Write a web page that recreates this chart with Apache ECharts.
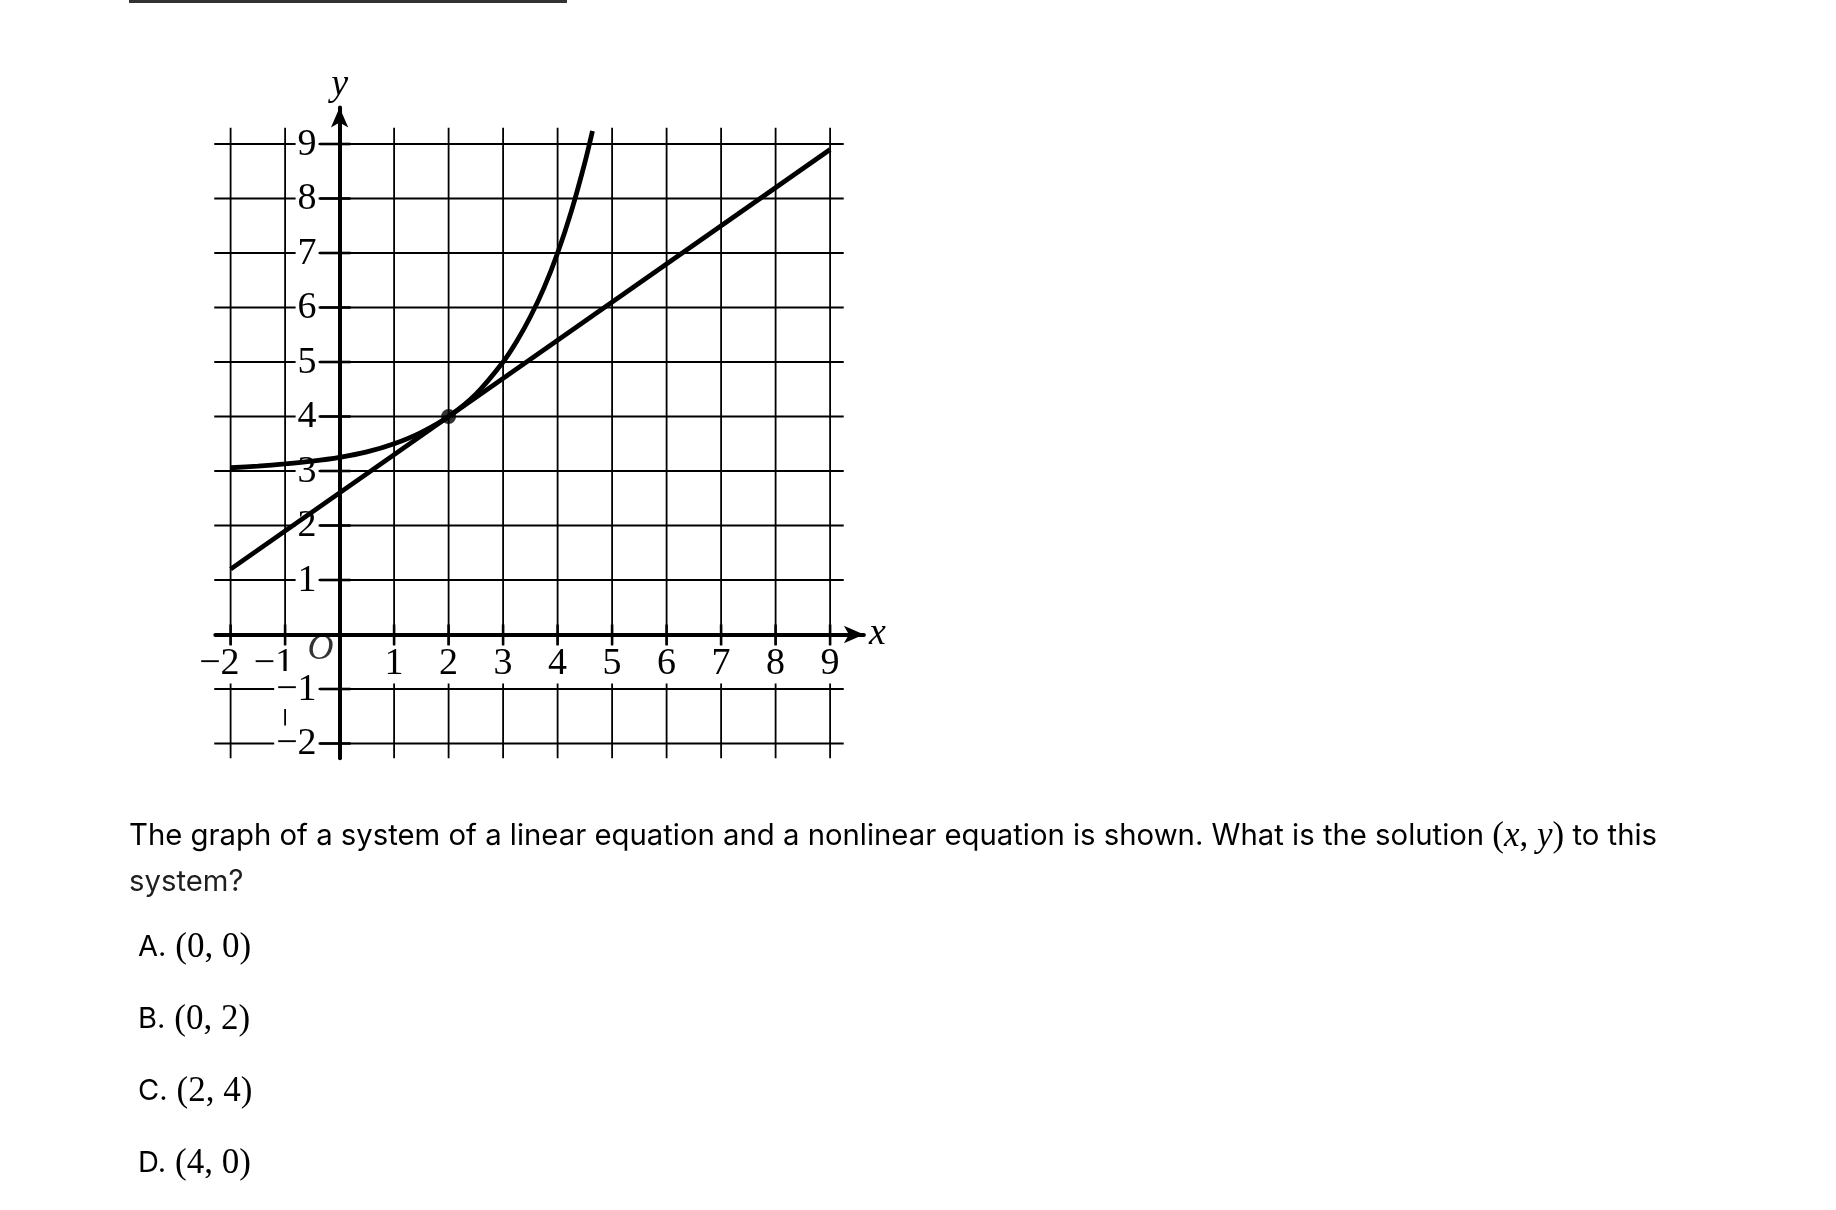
<!DOCTYPE html>
<html>
<head>
<meta charset="utf-8">
<script src="https://cdn.jsdelivr.net/npm/echarts@6/dist/echarts.min.js"></script>
<style>
html,body{margin:0;padding:0;background:#fff;}
#chart{width:1836px;height:1210px;}
</style>
</head>
<body>
<div id="chart"></div>
<script>
// ---- data ----
const xTicks = [-2, -1, 1, 2, 3, 4, 5, 6, 7, 8, 9];
const yTicks = [-2, -1, 1, 2, 3, 4, 5, 6, 7, 8, 9];
const xLabelValues = [-2, -1, 1, 2, 3, 4, 5, 6, 7, 8, 9];
const yLabelValues = [-2, -1, 1, 2, 3, 4, 5, 6, 7, 8, 9];
// linear equation (endpoints as drawn)
const lineX = [-2, 9];
const lineY = [1.2, 8.9];
// nonlinear (exponential-looking) curve
const curveX = [-2, -1.5, -1, -0.5, 0, 0.5, 1, 1.5, 2, 2.5, 3, 3.25, 3.5, 3.75, 4, 4.25, 4.5, 4.64];
const curveY = [3.06, 3.09, 3.13, 3.18, 3.25, 3.35, 3.5, 3.71, 4.0, 4.41, 5.0, 5.38, 5.83, 6.36, 7.0, 7.76, 8.66, 9.24];
// intersection point
const solution = [[2, 4]];
const originPoint = [[0, 0]];

const questionText = 'The graph of a system of a linear equation and a nonlinear equation is shown. What is the solution ';
const questionTail = ' to this';
const questionLine2 = 'system?';
const choiceLetters = ['A.', 'B.', 'C.', 'D.'];
const choiceValues = ['(0, 0)', '(0, 2)', '(2, 4)', '(4, 0)'];

// ---- layout / style constants ----
const SERIF = '"Liberation Serif", "Times New Roman", serif';
const SANS = 'Inter, "Noto Sans", sans-serif';
const X_MIN = -2.28, X_MAX = 9.62, Y_MIN = -2.27, Y_MAX = 9.67;
const GRID_V_LO = -2.27, GRID_V_HI = 9.3;   // vertical grid line extent (y)
const GRID_H_LO = -2.30, GRID_H_HI = 9.25;  // horizontal grid line extent (x)
const UNIT = 54.5, X0 = 339.6, Y0 = 634.5;

const chart = echarts.init(document.getElementById('chart'), null, {renderer: 'canvas'});

const tickFont = {fontFamily: SERIF, fontSize: 38, fill: '#000', backgroundColor: '#fff', padding: [0, 2]};

const choiceGraphics = [];
const choiceBaseTop = 927;
choiceLetters.forEach((c, i) => {
  choiceGraphics.push({
    type: 'text', left: 138, top: choiceBaseTop + i * 72, silent: true,
    style: {
      text: '{l|' + c + '}{s| }{m|' + choiceValues[i] + '}',
      rich: {
        l: {fontFamily: SANS, fontSize: 29, color: '#1f1f1f', lineHeight: 44, verticalAlign: 'bottom', padding: [0, 0, 3, 0]},
        s: {fontFamily: SANS, fontSize: 32, lineHeight: 44},
        m: {fontFamily: SERIF, fontSize: 35, color: '#1f1f1f', lineHeight: 44, verticalAlign: 'bottom'}
      }
    }
  });
});

const option = {
  animation: false,
  backgroundColor: '#fff',
  grid: {left: X0 + X_MIN * UNIT, right: 1836 - (X0 + X_MAX * UNIT), top: Y0 - Y_MAX * UNIT, bottom: 1210 - (Y0 - Y_MIN * UNIT), containLabel: false, outerBoundsMode: 'none'},
  xAxis: {
    type: 'value', min: X_MIN, max: X_MAX,
    axisLine: {onZero: true, lineStyle: {color: '#000', width: 4}, symbol: ['none', 'arrow'], symbolSize: [13, 20]},
    axisTick: {show: false},
    splitLine: {show: false},
    axisLabel: {show: false},
    name: 'x', nameLocation: 'end', nameGap: 5,
    nameTextStyle: {fontFamily: SERIF, fontStyle: 'italic', fontSize: 38, color: '#000', verticalAlign: 'middle', padding: [0, 0, 6, 0]}
  },
  yAxis: {
    type: 'value', min: Y_MIN, max: Y_MAX,
    axisLine: {onZero: true, lineStyle: {color: '#000', width: 4}, symbol: ['none', 'arrow'], symbolSize: [13, 20]},
    axisTick: {show: false},
    splitLine: {show: false},
    axisLabel: {show: false},
    name: 'y', nameLocation: 'end', nameGap: 3,
    nameTextStyle: {fontFamily: SERIF, fontStyle: 'italic', fontSize: 38, color: '#000'}
  },
  graphic: [
    {type: 'rect', left: 129, top: 0, silent: true, shape: {width: 438, height: 3}, style: {fill: '#333'}},
    {
      type: 'text', left: 129, top: 819, silent: true,
      style: {
        text: '{t|' + questionText + '}{p|(}{i|x}{p|, }{i|y}{p|)}{t|' + questionTail + '}',
        rich: {
          t: {fontFamily: SANS, fontSize: 29.3, color: '#1f1f1f', lineHeight: 44, verticalAlign: 'bottom', padding: [0, 0, 3, 0]},
          p: {fontFamily: SERIF, fontSize: 35, color: '#1f1f1f', lineHeight: 44, verticalAlign: 'bottom'},
          i: {fontFamily: SERIF, fontStyle: 'italic', fontSize: 35, color: '#1f1f1f', lineHeight: 44, verticalAlign: 'bottom'}
        }
      }
    },
    {
      type: 'text', left: 129, top: 860, silent: true,
      style: {text: questionLine2, fontFamily: SANS, fontSize: 29.3, fill: '#1f1f1f', lineHeight: 44}
    }
  ].concat(choiceGraphics),
  series: [
    {
      type: 'custom', z: -1, silent: true, clip: false,
      data: xTicks.map(v => [v, 0]),
      encode: {x: 0, y: 1},
      renderItem: function (params, api) {
        const v = api.value(0);
        const a = api.coord([v, GRID_V_LO]);
        const b = api.coord([v, GRID_V_HI]);
        const c = api.coord([v, 0]);
        return {type: 'group', children: [
          {type: 'line', shape: {x1: a[0], y1: a[1], x2: b[0], y2: b[1]}, style: {stroke: '#000', lineWidth: 1.8}},
          {type: 'line', shape: {x1: c[0], y1: c[1] - 10, x2: c[0], y2: c[1] + 11}, style: {stroke: '#000', lineWidth: 2.6}}
        ]};
      }
    },
    {
      type: 'custom', z: -1, silent: true, clip: false,
      data: yTicks.map(v => [0, v]),
      encode: {x: 0, y: 1},
      renderItem: function (params, api) {
        const v = api.value(1);
        const a = api.coord([GRID_H_LO, v]);
        const b = api.coord([GRID_H_HI, v]);
        const c = api.coord([0, v]);
        return {type: 'group', children: [
          {type: 'line', shape: {x1: a[0], y1: a[1], x2: b[0], y2: b[1]}, style: {stroke: '#000', lineWidth: 1.8}},
          {type: 'line', shape: {x1: c[0] - 20, y1: c[1], x2: c[0] + 11, y2: c[1]}, style: {stroke: '#000', lineWidth: 2.6}}
        ]};
      }
    },
    {
      // x tick labels
      type: 'custom', z: 1, silent: true, clip: false,
      data: xLabelValues.map(v => [v, 0]),
      encode: {x: 0, y: 1},
      renderItem: function (params, api) {
        const v = api.value(0);
        const c = api.coord([v, 0]);
        const neg = v < 0;
        return {
          type: 'text', x: neg ? c[0] + 11 : c[0], y: c[1] + 30,
          style: Object.assign({}, tickFont, {
            text: neg ? '\u2212' + (-v) : String(v),
            align: neg ? 'right' : 'center', verticalAlign: 'middle'
          })
        };
      }
    },
    {
      // y tick labels
      type: 'custom', z: 1, silent: true, clip: false,
      data: yLabelValues.map(v => [0, v]),
      encode: {x: 0, y: 1},
      renderItem: function (params, api) {
        const v = api.value(1);
        const c = api.coord([0, v]);
        return {
          type: 'text', x: c[0] - 21, y: c[1] + 1,
          style: Object.assign({}, tickFont, {
            text: v < 0 ? '\u2212' + (-v) : String(v),
            align: 'right', verticalAlign: 'middle'
          })
        };
      }
    },
    {
      type: 'line', silent: true, symbol: 'none', z: 3,
      data: lineX.map((x, i) => [x, lineY[i]]),
      lineStyle: {color: '#000', width: 4.8, cap: 'butt'}
    },
    {
      type: 'line', silent: true, symbol: 'none', smooth: 0.3, z: 3,
      data: curveX.map((x, i) => [x, curveY[i]]),
      lineStyle: {color: '#000', width: 4.8, cap: 'butt'}
    },
    {
      type: 'scatter', silent: true, z: 4,
      data: solution, symbol: 'circle', symbolSize: 15,
      itemStyle: {color: '#000'}
    },
    {
      type: 'scatter', silent: true, z: 4,
      data: originPoint, symbolSize: 0,
      label: {show: true, formatter: 'O', position: [-32, -3], fontFamily: SERIF, fontStyle: 'italic', fontSize: 36, color: '#000'}
    }
  ]
};
chart.setOption(option);
</script>
</body>
</html>
